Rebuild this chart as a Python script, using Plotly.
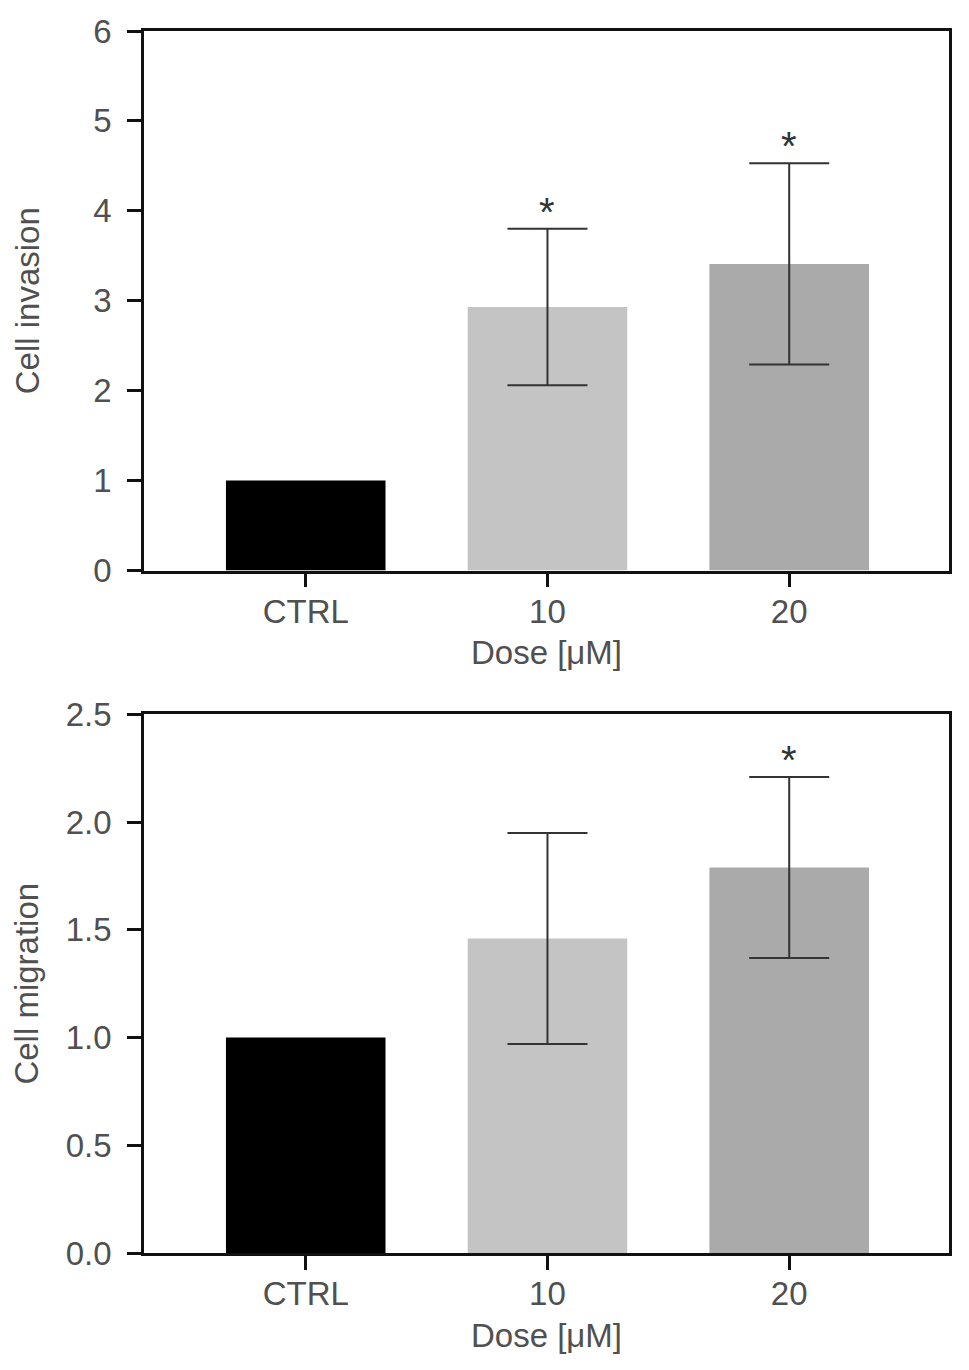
import plotly.graph_objects as go
from plotly.subplots import make_subplots

# Data
doses = ['CTRL', '10', '20']
bar_colors = ['#000000', '#c4c4c4', '#aaaaaa']

invasion_mean = [1.0, 2.93, 3.41]
invasion_err = [0.0, 0.87, 1.12]
invasion_sig = ['', '*', '*']

migration_mean = [1.0, 1.46, 1.79]
migration_err = [0.0, 0.49, 0.42]
migration_sig = ['', '', '*']

text_color = '#505050'
font_family = 'Liberation Sans, Arial, Helvetica, sans-serif'
fsize = 33

fig = make_subplots(rows=2, cols=1, vertical_spacing=0.1)

panels = [(invasion_mean, invasion_err, invasion_sig),
          (migration_mean, migration_err, migration_sig)]

for row, (means, errs, sigs) in enumerate(panels, start=1):
    for i in range(len(doses)):
        fig.add_trace(go.Bar(x=[doses[i]], y=[means[i]],
                             marker=dict(color=bar_colors[i], line=dict(width=0)),
                             width=0.66,
                             error_y=dict(type='data', array=[errs[i]],
                                          visible=errs[i] > 0,
                                          color='#333333', thickness=2, width=40),
                             showlegend=False),
                      row=row, col=1)
        # significance stars (category index used for x)
        if sigs[i]:
            fig.add_annotation(x=i, y=means[i] + errs[i], text=sigs[i],
                               showarrow=False, yanchor='bottom', yshift=-7,
                               font=dict(size=40, color='#333333', family=font_family),
                               xref='x' if row == 1 else 'x2',
                               yref='y' if row == 1 else 'y2')

axis_common = dict(showline=True, linecolor='#111111', linewidth=2.5, mirror=True,
                   ticks='outside', ticklen=14, tickwidth=2.5, tickcolor='#111111',
                   showgrid=False, zeroline=False, automargin=False,
                   tickfont=dict(size=fsize, color=text_color, family=font_family))

fig.update_xaxes(**axis_common, type='category', range=[-0.669, 2.661],
                 ticklabelstandoff=-4,
                 title=dict(text='Dose [\u03bcM]', standoff=13,
                            font=dict(size=fsize, color=text_color, family=font_family)))
fig.update_yaxes(**axis_common, ticklabelstandoff=9)

fig.update_layout(
    yaxis=dict(domain=[0.5585, 1], range=[0, 6], tickvals=[0, 1, 2, 3, 4, 5, 6],
               title=dict(text='Cell invasion', standoff=44,
                          font=dict(size=fsize, color=text_color, family=font_family))),
    yaxis2=dict(domain=[0, 0.4407], range=[0, 2.5],
                tickvals=[0, 0.5, 1.0, 1.5, 2.0, 2.5], tickformat='.1f',
                title=dict(text='Cell migration', standoff=18,
                           font=dict(size=fsize, color=text_color, family=font_family))),
    width=969, height=1370,
    margin=dict(l=136, r=28, t=23, b=125),
    plot_bgcolor='white', paper_bgcolor='white',
    font=dict(family=font_family, color=text_color),
)

fig.write_html("out.html")
